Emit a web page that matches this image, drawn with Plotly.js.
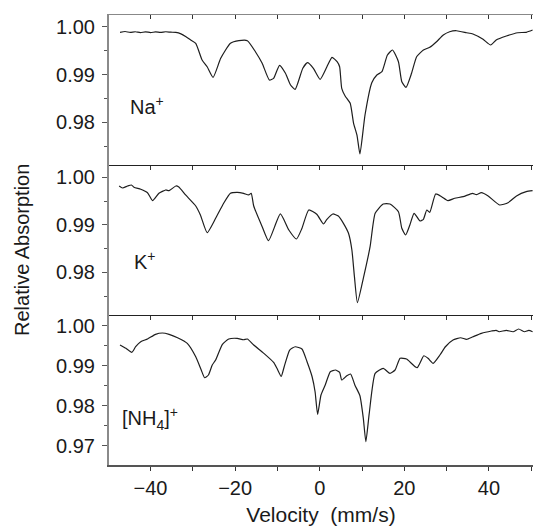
<!DOCTYPE html>
<html>
<head>
<meta charset="utf-8">
<script src="https://cdn.plot.ly/plotly-3.0.1.min.js"></script>
<style>html,body{margin:0;padding:0;background:#fff;}#chart{width:533px;height:529px;}</style>
</head>
<body>
<div id="chart"></div>
<script>
// Na+ panel
var naVelocity = [-47.2,-46.0,-44.8,-43.6,-42.4,-41.2,-40.0,-38.8,-37.6,-36.4,-35.2,-34.0,-32.8,-31.6,-30.5,-29.3,-27.8,-26.6,-25.2,-23.4,-21.1,-19.1,-17.1,-15.2,-13.6,-11.9,-10.9,-9.5,-8.1,-6.9,-5.8,-4.0,-2.9,-1.5,0.1,1.7,2.9,4.1,4.7,5.2,6.0,7.2,8.0,8.8,9.5,10.7,12.3,13.5,14.7,16.0,17.2,18.6,19.4,20.4,21.7,22.9,24.5,26.0,27.6,29.2,30.7,32.3,34.7,36.2,38.6,40.4,41.7,44.1,46.8,48.8,50.3];
var naAbsorption = [0.99883,0.99900,0.99880,0.99895,0.99875,0.99892,0.99878,0.99890,0.99880,0.99895,0.99885,0.99880,0.99850,0.99790,0.99722,0.99653,0.99303,0.99163,0.98941,0.99339,0.99653,0.99707,0.99707,0.99477,0.99234,0.98885,0.98920,0.99192,0.99025,0.98780,0.98690,0.99130,0.99247,0.99130,0.98900,0.99163,0.99360,0.99268,0.99163,0.98711,0.98550,0.98397,0.97979,0.97734,0.97337,0.98153,0.98828,0.98990,0.99059,0.99408,0.99513,0.99268,0.98849,0.98732,0.99025,0.99372,0.99513,0.99569,0.99686,0.99826,0.99895,0.99916,0.99874,0.99847,0.99736,0.99617,0.99722,0.99805,0.99874,0.99883,0.99931];

// K+ panel
var kVelocity = [-47.4,-46.6,-45.4,-44.5,-43.9,-42.3,-40.7,-39.5,-38.0,-36.4,-35.6,-34.0,-33.3,-31.7,-29.3,-28.2,-26.6,-24.6,-22.7,-21.1,-19.5,-18.0,-16.8,-16.2,-15.6,-13.6,-12.1,-9.3,-7.3,-5.5,-4.2,-2.6,-0.7,0.9,1.7,3.1,4.4,5.6,6.8,7.6,8.2,8.9,10.3,11.9,13.1,15.0,16.6,18.6,19.4,20.3,21.3,22.3,23.7,24.5,25.3,26.0,27.4,28.8,30.3,31.9,33.9,36.1,37.0,38.2,39.8,42.5,44.5,46.5,48.8,50.3];
var kAbsorption = [0.99821,0.99779,0.99821,0.99842,0.99794,0.99752,0.99680,0.99512,0.99667,0.99737,0.99722,0.99821,0.99800,0.99632,0.99400,0.99211,0.98838,0.99141,0.99457,0.99667,0.99688,0.99667,0.99632,0.99667,0.99400,0.98964,0.98669,0.99232,0.98895,0.98705,0.98930,0.99316,0.99225,0.99021,0.99120,0.99232,0.99189,0.99035,0.98825,0.98474,0.97912,0.97364,0.97878,0.98543,0.99246,0.99442,0.99442,0.99280,0.98930,0.98789,0.99000,0.99246,0.99084,0.99120,0.99316,0.99267,0.99653,0.99596,0.99512,0.99562,0.99596,0.99667,0.99638,0.99680,0.99611,0.99421,0.99469,0.99611,0.99701,0.99722];

// [NH4]+ panel
var nh4Velocity = [-47.2,-45.8,-44.4,-43.5,-42.3,-40.7,-38.8,-37.2,-35.6,-33.6,-31.3,-29.3,-28.0,-27.2,-26.3,-25.4,-24.6,-23.0,-21.5,-19.5,-18.0,-17.1,-15.6,-13.2,-10.9,-10.1,-9.1,-8.4,-7.1,-5.8,-4.2,-3.0,-1.8,-1.1,-0.5,0.3,1.3,2.5,3.7,4.7,5.2,6.4,7.3,8.3,9.5,10.3,10.9,11.7,13.1,15.0,16.6,17.8,19.0,20.5,23.0,24.6,25.6,26.8,28.4,29.7,31.5,33.3,34.7,36.2,38.2,40.6,41.7,42.4,44.1,45.7,47.0,48.4,49.4,50.3];
var nh4Absorption = [0.99518,0.99435,0.99335,0.99475,0.99600,0.99668,0.99785,0.99818,0.99785,0.99700,0.99560,0.99225,0.98893,0.98700,0.98768,0.99018,0.99143,0.99535,0.99668,0.99685,0.99650,0.99668,0.99518,0.99310,0.99085,0.98935,0.98735,0.98975,0.99393,0.99475,0.99418,0.99100,0.98725,0.98350,0.97785,0.98268,0.98518,0.98850,0.98893,0.98835,0.98643,0.98750,0.98793,0.98518,0.98250,0.97685,0.97100,0.97810,0.98810,0.98935,0.98810,0.98893,0.99185,0.99168,0.98950,0.99250,0.99185,0.99060,0.99268,0.99475,0.99643,0.99700,0.99660,0.99725,0.99810,0.99868,0.99885,0.99850,0.99885,0.99850,0.99918,0.99850,0.99885,0.99850];

var panelLabels = ['Na<sup>+</sup>', 'K<sup>+</sup>', '[NH<sub>4</sub>]<sup>+</sup>'];
var xTitle = 'Velocity\u00a0 (mm/s)';
var yTitle = 'Relative Absorption';

var FONT = 'Liberation Sans, Arial, sans-serif';
var TXT = '#1a1a1a';
var xRange = [-49.8, 50.4];

var lineStyle = {color: '#1e1e1e', width: 1.2, shape: 'spline', smoothing: 0.5};
var traces = [
  {x: naVelocity, y: naAbsorption, xaxis: 'x', yaxis: 'y', mode: 'lines', line: lineStyle, hoverinfo: 'skip'},
  {x: kVelocity, y: kAbsorption, xaxis: 'x2', yaxis: 'y2', mode: 'lines', line: lineStyle, hoverinfo: 'skip'},
  {x: nh4Velocity, y: nh4Absorption, xaxis: 'x3', yaxis: 'y3', mode: 'lines', line: lineStyle, hoverinfo: 'skip'},
  // empty placeholder so the top frame axis of the first panel is created
  {x: [null], y: [null], xaxis: 'x4', yaxis: 'y', mode: 'lines', hoverinfo: 'skip', showlegend: false}
];

function xAxis(anchor, side, ticks, color, width, labels) {
  var a = {
    anchor: anchor, side: side, range: xRange, showline: true, linecolor: color, linewidth: width,
    ticks: ticks, ticklen: 4, tickcolor: '#333', tickwidth: 1, dtick: labels ? 20 : 10, tick0: 0,
    showticklabels: labels, showgrid: false, zeroline: false, fixedrange: true
  };
  if (labels) {
    a.minor = {dtick: 10, ticks: ticks, ticklen: 4, tickcolor: '#333', tickwidth: 1, showgrid: false};
    a.tickfont = {family: FONT, size: 20, color: TXT};
    a.title = {text: xTitle, font: {family: FONT, size: 21, color: TXT}, standoff: 10};
  }
  return a;
}
function yAxis(domain, range, anchor) {
  return {
    domain: domain, range: range, anchor: anchor, showline: true, linecolor: '#8a8a8a', linewidth: 2,
    ticks: 'outside', ticklen: 5, tickcolor: '#555', tickwidth: 1, dtick: 0.01, tick0: 0,
    tickformat: '.2f', ticklabelstandoff: 3,
    minor: {dtick: 0.005, ticks: 'outside', ticklen: 3, tickcolor: '#555', tickwidth: 1, showgrid: false},
    showgrid: false, zeroline: false, fixedrange: true,
    tickfont: {family: FONT, size: 20, color: TXT}
  };
}

var xa4 = xAxis('y', 'top', 'inside', '#888', 1.5, false);
xa4.overlaying = 'x';

var layout = {
  width: 533, height: 529,
  margin: {l: 109, r: 0, t: 15, b: 64},
  paper_bgcolor: '#fff', plot_bgcolor: '#fff',
  showlegend: false,
  font: {family: FONT, color: TXT},
  xaxis: xAxis('y', 'bottom', 'outside', '#222', 1, false),
  xaxis2: xAxis('y2', 'bottom', 'outside', '#222', 1, false),
  xaxis3: xAxis('y3', 'bottom', 'outside', '#555', 1.5, true),
  xaxis4: xa4,
  yaxis: yAxis([0.6667, 1], [0.97107, 1.00245], 'x'),
  yaxis2: yAxis([0.3333, 0.6667], [0.97105, 1.00263], 'x2'),
  yaxis3: yAxis([0, 0.3333], [0.96518, 1.00268], 'x3'),
  annotations: [
    {text: panelLabels[0], xref: 'x', yref: 'y', x: -45.3, y: 0.98362, xanchor: 'left', yanchor: 'middle', showarrow: false, font: {family: FONT, size: 20, color: TXT}},
    {text: panelLabels[1], xref: 'x2', yref: 'y2', x: -44.4, y: 0.98263, xanchor: 'left', yanchor: 'middle', showarrow: false, font: {family: FONT, size: 20, color: TXT}},
    {text: panelLabels[2], xref: 'x3', yref: 'y3', x: -47.2, y: 0.97693, xanchor: 'left', yanchor: 'middle', showarrow: false, font: {family: FONT, size: 20, color: TXT}},
    {text: yTitle, xref: 'paper', yref: 'paper', x: -0.205, y: 0.478, xanchor: 'center', yanchor: 'middle', textangle: -90, showarrow: false, font: {family: FONT, size: 20, color: TXT}}
  ]
};

Plotly.newPlot('chart', traces, layout, {staticPlot: true, displayModeBar: false});
</script>
</body>
</html>
